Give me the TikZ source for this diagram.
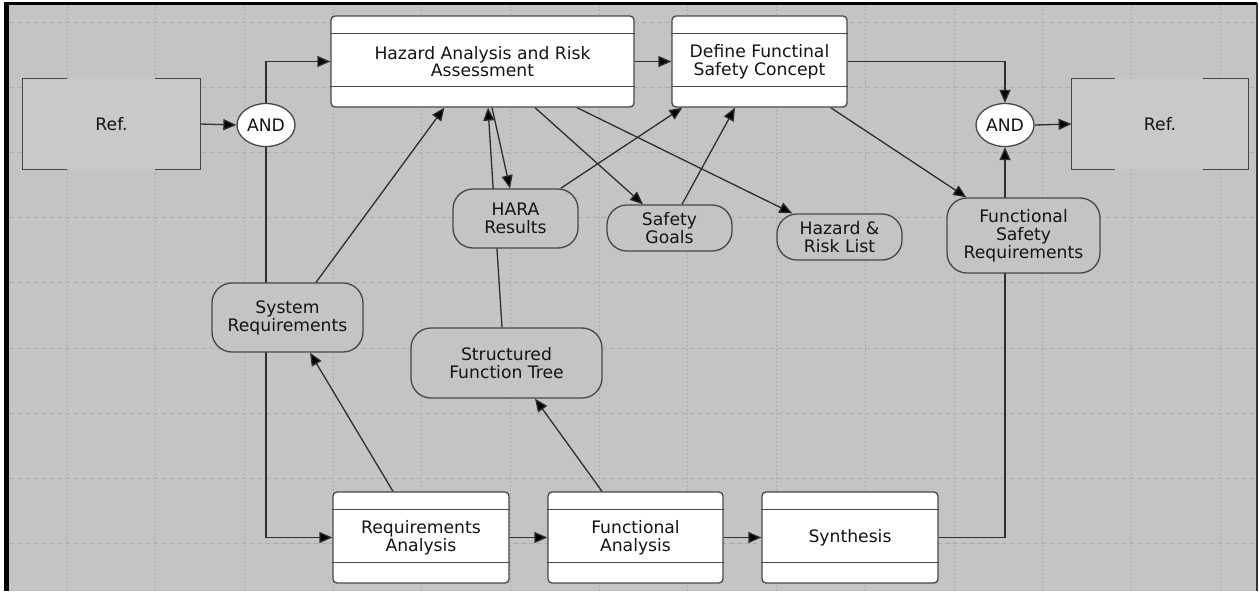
\documentclass[tikz,border=0pt]{standalone}
\usepackage{fontspec}
\setmainfont{DejaVu Sans}
\usetikzlibrary{arrows.meta,calc,shapes.geometric}
\definecolor{bgc}{HTML}{C4C4C4}
\definecolor{reffill}{HTML}{C9C9C9}
\definecolor{gridc}{HTML}{ABABAB}
\definecolor{boxline}{HTML}{474747}
\definecolor{conn}{HTML}{2E2E2E}
\definecolor{txt}{HTML}{141414}
\pgfdeclarelayer{gridlayer}
\pgfdeclarelayer{edgelayer}
\pgfsetlayers{gridlayer,edgelayer,main}
\tikzset{
  procbox/.style={draw=boxline, fill=white, rounded corners=2pt, line width=0.65pt,
    minimum height=45.5pt, inner sep=0pt, align=center, text=txt},
  ovalbox/.style={draw=boxline, fill=bgc, rounded corners=10pt, line width=0.65pt,
    inner sep=0pt, align=center, text=txt},
  andnode/.style={draw=boxline, fill=white, ellipse, line width=0.65pt,
    minimum width=29pt, minimum height=21.5pt, inner sep=0pt, text=txt},
  refnode/.style={fill=reffill, minimum height=45pt, inner sep=0pt, text=txt},
  refline/.style={draw=boxline, line width=0.65pt},
  conline/.style={draw=conn, line width=0.65pt, -{Triangle[length=6.5pt,width=5.5pt,fill=black]}},
  gridh/.style={draw=gridc, line width=0.5pt, dash pattern=on 2.5pt off 1.5pt},
  gridv/.style={draw=gridc, line width=0.5pt, dash pattern=on 1pt off 1pt},
}
\begin{document}
\begin{tikzpicture}[x=0.5pt,y=-0.5pt, font=\fontsize{8.6pt}{8.9pt}\selectfont]
\useasboundingbox (0,0) rectangle (1259,591);
\begin{pgfonlayer}{gridlayer}
  \fill[white] (0,0) rectangle (1259,591);
  \fill[bgc] (5,3) rectangle (1257,591);
  \foreach \k in {0,...,13} {
    \draw[gridv] ({67+88.7*\k},5) -- ({67+88.7*\k},591);
  }
  \foreach \k in {0,...,8} {
    \draw[gridh] (9,{22+65.2*\k}) -- (1256,{22+65.2*\k});
  }
  \draw[black, line width=2.5pt] (6.5,591) -- (6.5,2.5);
  \draw[black, line width=1.5pt] (4,3.5) -- (1257,3.5);
  \draw[black!80, line width=0.8pt] (1257,3) -- (1257,591);
\end{pgfonlayer}

% reference shapes
\node[refnode, minimum width=88.5pt] (refL) at (111.5,124) {Ref.};
\node[refnode, minimum width=88pt] (refR) at (1160,124) {Ref.};
\draw[refline] ($(refL.north west)+(44,0)$) -- (refL.north west) -- (refL.south west) -- ($(refL.south west)+(44,0)$);
\draw[refline] ($(refL.north east)+(-45,0)$) -- (refL.north east) -- (refL.south east) -- ($(refL.south east)+(-45,0)$);
\draw[refline] ($(refR.north west)+(43,0)$) -- (refR.north west) -- (refR.south west) -- ($(refR.south west)+(43,0)$);
\draw[refline] ($(refR.north east)+(-45,0)$) -- (refR.north east) -- (refR.south east) -- ($(refR.south east)+(-45,0)$);

% AND junctions
\node[andnode] (andL) at (266,125) {AND};
\node[andnode] (andR) at (1005,125) {AND};

% process boxes
\node[procbox, minimum width=151.5pt] (hara) at (482.5,61.5) {Hazard Analysis and Risk\\Assessment};
\node[procbox, minimum width=87.5pt] (fsc) at (759.5,61.5) {Define Functinal\\Safety Concept};
\node[procbox, minimum width=88pt] (ra) at (421,537.5) {Requirements\\Analysis};
\node[procbox, minimum width=87.5pt] (fa) at (635.5,537.5) {Functional\\Analysis};
\node[procbox, minimum width=88pt] (syn) at (850,537.5) {Synthesis};
\foreach \n in {hara,fsc,ra,fa,syn} {
  \draw[boxline, line width=0.65pt] ($(\n.north west)+(0,18)$) -- ($(\n.north east)+(0,18)$);
  \draw[boxline, line width=0.65pt] ($(\n.south west)+(0,-21)$) -- ($(\n.south east)+(0,-21)$);
}

% data nodes
\node[ovalbox, minimum width=62.5pt, minimum height=29.5pt] (hres) at (515.5,218.5) {HARA\\Results};
\node[ovalbox, minimum width=62.5pt, minimum height=23pt] (sg) at (669.5,228) {Safety\\Goals};
\node[ovalbox, minimum width=62.5pt, minimum height=23pt] (hrl) at (839.5,237) {Hazard \&\\Risk List};
\node[ovalbox, minimum width=76.5pt, minimum height=37.5pt] (fsr) at (1023.5,235.5) {Functional\\Safety\\Requirements};
\node[ovalbox, minimum width=75.5pt, minimum height=34.5pt] (sysreq) at (287.5,317.5) {System\\Requirements};
\node[ovalbox, minimum width=95.5pt, minimum height=35pt] (sft) at (506.5,363) {Structured\\Function Tree};

% connectors
\begin{pgfonlayer}{edgelayer}
  \draw[conline] (refL.east) -- (andL.west);
  \draw[conline] (andL.north) |- (hara.west);
  \draw[conline] (andL.south) |- (ra.west);
  \draw[conline] (hara.east) -- (fsc.west);
  \draw[conline] (fsc.east) -| (andR.north);
  \draw[conline] (andR.east) -- (refR.west);
  \draw[conline] (syn.east) -| (andR.south);
  \draw[conline] (ra.east) -- (fa.west);
  \draw[conline] (fa.east) -- (syn.west);
  \draw[conline] ($(fsc.south east)+(-17,0)$) -- ($(fsr.north west)+(20,0)$);
  \draw[conline] ($(sft.north)+(-4.5,0)$) -- ($(hara.south)+(5.5,0)$);
  \draw[conline] ($(hara.south)+(9.5,0)$) -- ($(hres.north)+(-5.5,0)$);
  \draw[conline] ($(hara.south)+(52.5,0)$) -- ($(sg.north)+(-26.5,0)$);
  \draw[conline] ($(hara.south)+(94.5,0)$) -- ($(hrl.north west)+(16,0)$);
  \draw[conline] ($(hres.north east)+(-18,0)$) -- ($(fsc.south west)+(11,0)$);
  \draw[conline] ($(sg.north)+(12.5,0)$) -- ($(fsc.south)+(-24.5,0)$);
  \draw[conline] ($(sysreq.north)+(28.5,0)$) -- ($(hara.south west)+(114,0)$);
  \draw[conline] ($(ra.north)+(-28,0)$) -- ($(sysreq.south)+(22.5,0)$);
  \draw[conline] ($(fa.north)+(-33.5,0)$) -- ($(sft.south)+(28.5,0)$);
\end{pgfonlayer}
\end{tikzpicture}
\end{document}
